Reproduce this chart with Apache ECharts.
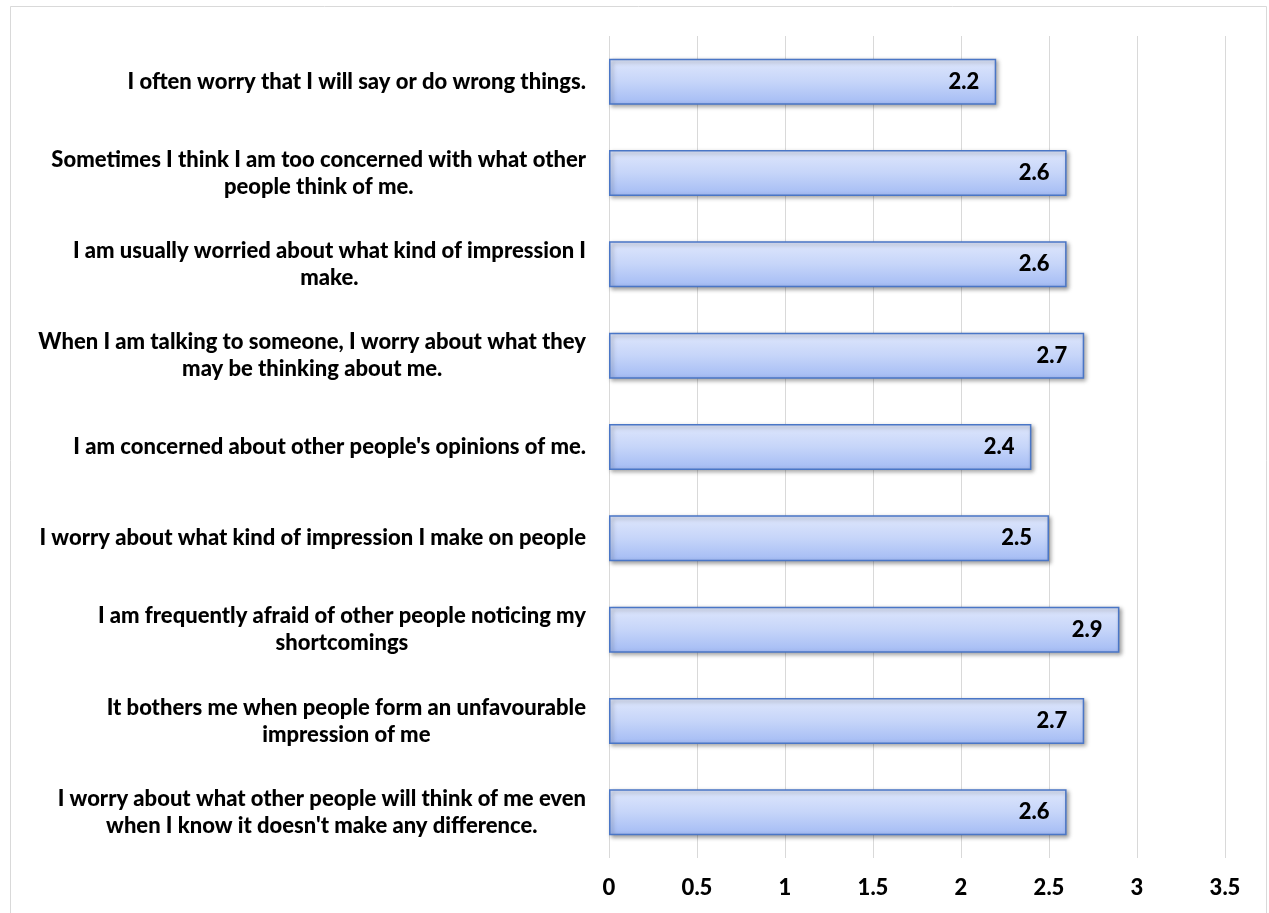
<!DOCTYPE html>
<html>
<head>
<meta charset="utf-8">
<script src="https://cdn.jsdelivr.net/npm/echarts@6/dist/echarts.min.js"></script>
<style>
  html, body { margin: 0; padding: 0; background: #ffffff; }
  #chart { width: 1269px; height: 913px; }
</style>
</head>
<body>
<div id="chart"></div>
<script>
// Survey statements (top to bottom) and their mean scores
const statements = [
  "I often worry that I will say or do wrong things.",
  "Sometimes I think I am too concerned with what other\npeople think of me.",
  "I am usually worried about what kind of impression I\nmake.",
  "When I am talking to someone, I worry about what they\nmay be thinking about me.",
  "I am concerned about other people's opinions of me.",
  "I worry about what kind of impression I make on people",
  "I am frequently afraid of other people noticing my\nshortcomings",
  "It bothers me when people form an unfavourable\nimpression of me",
  "I worry about what other people will think of me even\nwhen I know it doesn't make any difference."
];
const meanScores = [2.2, 2.6, 2.6, 2.7, 2.4, 2.5, 2.9, 2.7, 2.6];

const FONT = "Lato, 'Open Sans', sans-serif";
const FSIZE = 22;
const WEIGHT = 900;

const chart = echarts.init(document.getElementById('chart'), null, { renderer: 'canvas' });

chart.setOption({
  backgroundColor: '#ffffff',
  animation: false,
  graphic: [{
    type: 'rect',
    silent: true,
    shape: { x: 10.5, y: 6.5, width: 1256, height: 912 },
    style: { fill: 'none', stroke: '#d9d9d9', lineWidth: 1 }
  }],
  grid: { left: 609, right: 44, top: 36, bottom: 55, containLabel: false },
  xAxis: {
    type: 'value',
    min: 0,
    max: 3.5,
    interval: 0.5,
    axisLine: { show: false },
    axisTick: { show: false },
    splitLine: { show: true, lineStyle: { color: '#d9d9d9', width: 1 } },
    axisLabel: {
      margin: 19,
      color: '#000000',
      fontFamily: FONT,
      fontWeight: WEIGHT,
      fontSize: FSIZE
    }
  },
  yAxis: {
    type: 'category',
    inverse: true,
    data: statements,
    axisLine: { show: false },
    axisTick: { show: false },
    splitLine: { show: false },
    axisLabel: {
      margin: 23,
      align: 'right',
      lineHeight: 27,
      color: '#000000',
      fontFamily: FONT,
      fontWeight: WEIGHT,
      fontSize: FSIZE,
      formatter: function (v) { return '{c|' + v.split('\n').join('}\n{c|') + '}'; },
      rich: {
        c: {
          align: 'center',
          lineHeight: 27,
          color: '#000000',
          fontFamily: FONT,
          fontWeight: WEIGHT,
          fontSize: FSIZE
        }
      }
    }
  },
  series: [{
    type: 'bar',
    data: meanScores,
    barWidth: 46,
    itemStyle: {
      color: new echarts.graphic.LinearGradient(0, 0, 0, 1, [
        { offset: 0, color: '#dfe7fc' },
        { offset: 0.5, color: '#c6d5f9' },
        { offset: 1, color: '#a3bbf4' }
      ]),
      borderColor: '#4a76c6',
      borderWidth: 1.5,
      shadowColor: 'rgba(0,0,0,0.35)',
      shadowBlur: 4,
      shadowOffsetX: 2,
      shadowOffsetY: 2
    },
    label: {
      show: true,
      position: 'insideRight',
      distance: 17,
      color: '#000000',
      fontFamily: FONT,
      fontWeight: WEIGHT,
      fontSize: FSIZE
    }
  }]
});
</script>
</body>
</html>
